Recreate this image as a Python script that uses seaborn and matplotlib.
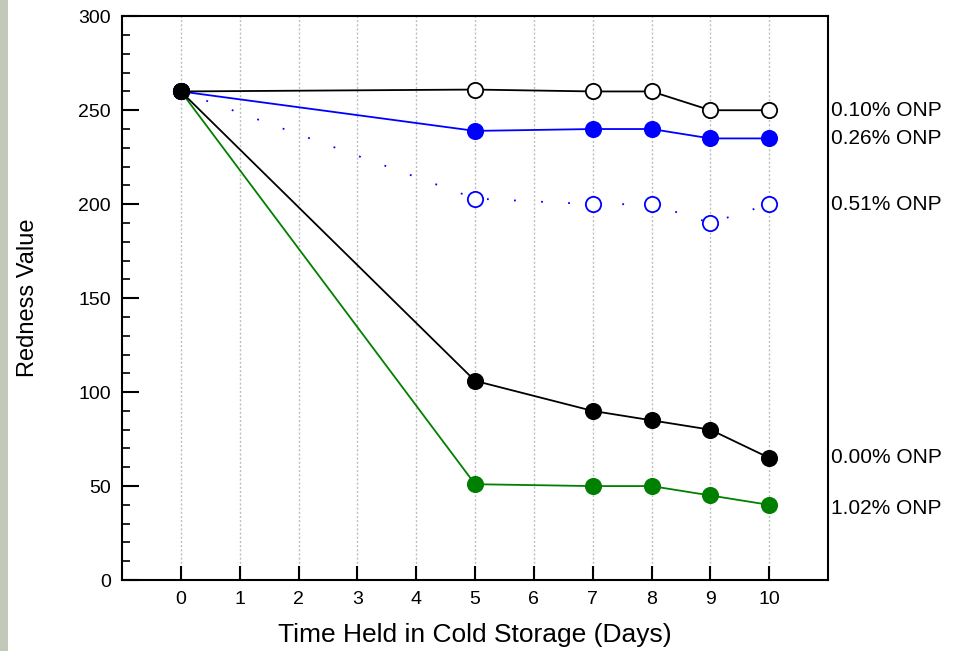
import matplotlib
matplotlib.use("Agg")
import matplotlib.pyplot as plt
import seaborn as sns
from matplotlib.patches import Rectangle
from matplotlib.ticker import MultipleLocator

# data
days = [0, 5, 7, 8, 9, 10]
onp_010 = [260, 261, 260, 260, 250, 250]
onp_026 = [260, 239, 240, 240, 235, 235]
onp_051 = [260, 203, 200, 200, 190, 200]
onp_000 = [260, 106, 90, 85, 80, 65]
onp_102 = [260, 51, 50, 50, 45, 40]

series_labels = ["0.10% ONP", "0.26% ONP", "0.51% ONP", "0.00% ONP", "1.02% ONP"]
label_y = [250, 235, 200, 65, 38]
x_ticks = list(range(0, 11))

sns.set_theme(style="white")
plt.rcParams["font.family"] = ["Liberation Sans", "DejaVu Sans"]
plt.rcParams["text.color"] = "black"
plt.rcParams["axes.labelcolor"] = "black"
plt.rcParams["xtick.color"] = "black"
plt.rcParams["ytick.color"] = "black"

fig = plt.figure(figsize=(9.64, 6.51), dpi=100)
ax = fig.add_axes([0.1266, 0.109, 0.7324, 0.866])

# leftover strip of the slide background on the left edge
fig.patches.append(Rectangle((0, 0), 8 / 964, 1, transform=fig.transFigure,
                             facecolor="#c2c9b9", edgecolor="none"))

for xt in x_ticks:
    ax.axvline(xt, color="#bdbdbd", lw=1, ls=(0, (1.5, 1.5)), zorder=0)

# drawn bottom to top so the black 0.00% point sits on top at day 0
styles = [
    (onp_102, "green", "green", "-"),
    (onp_051, "blue", "white", (0, (1, 14))),
    (onp_026, "blue", "blue", "-"),
    (onp_010, "black", "white", "-"),
    (onp_000, "black", "black", "-"),
]
for vals, col, face, ls in styles:
    sns.lineplot(x=days, y=vals, ax=ax, color=col, lw=1.3, linestyle=ls,
                 marker="o", markersize=11, markerfacecolor=face,
                 markeredgecolor=col, markeredgewidth=1.3, zorder=3)

for lab, yy in zip(series_labels, label_y):
    ax.text(11.05, yy, lab, fontsize=15, va="center", ha="left",
            color="black", transform=ax.transData, clip_on=False)

ax.set_xlim(-1, 11)
ax.set_ylim(0, 300)
ax.set_xticks(x_ticks)
ax.yaxis.set_major_locator(MultipleLocator(50))
ax.yaxis.set_minor_locator(MultipleLocator(10))
ax.tick_params(axis="both", which="major", direction="in", length=10, width=1.5,
               labelsize=14, colors="black", left=True, bottom=True, pad=8)
ax.tick_params(axis="y", which="minor", direction="in", length=6, width=1.2,
               left=True, color="black")
ax.tick_params(axis="y", which="major", length=12)

for sp in ax.spines.values():
    sp.set_color("black")
    sp.set_linewidth(1.5)

ax.set_xlabel("Time Held in Cold Storage (Days)", fontsize=19, labelpad=11)
ax.set_ylabel("Redness Value", fontsize=17, labelpad=28)

fig.savefig("out.png", dpi=100)
